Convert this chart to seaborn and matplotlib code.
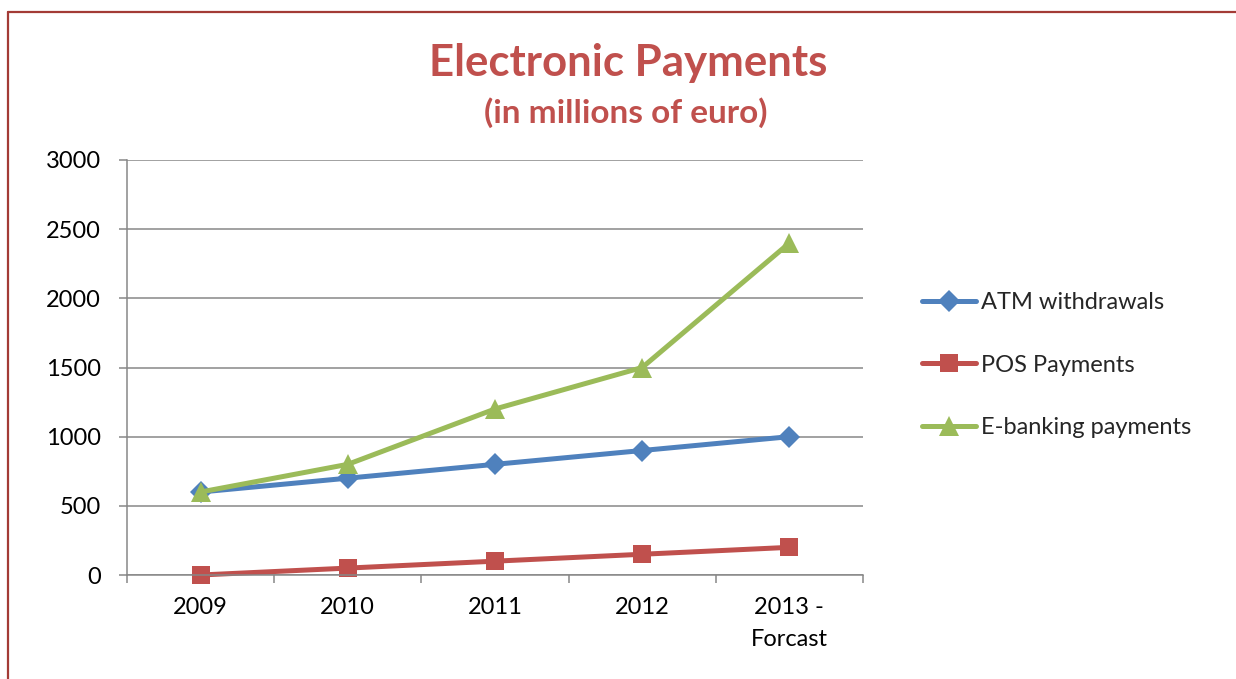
import matplotlib
matplotlib.use("Agg")
import matplotlib.pyplot as plt
from matplotlib.lines import Line2D
from matplotlib.ticker import MultipleLocator, FixedLocator
import pandas as pd
import seaborn as sns

# Chart data
years = ["2009", "2010", "2011", "2012", "2013 -\nForcast"]
atm_withdrawals = [600, 700, 800, 900, 1000]
pos_payments = [0, 50, 100, 150, 200]
ebanking_payments = [600, 800, 1200, 1500, 2400]

series_names = ["ATM withdrawals", "POS Payments", "E-banking payments"]
series_values = [atm_withdrawals, pos_payments, ebanking_payments]
series_colors = ["#4F81BD", "#C0504D", "#9BBB59"]
series_markers = ["D", "s", "^"]
series_msizes = [11, 13, 14]

sns.set_style("white")
plt.rcParams["font.family"] = ["Lato", "DejaVu Sans"]

W, H = 1236, 679
fig = plt.figure(figsize=(W / 100, H / 100), dpi=100)
ax = fig.add_axes([127 / W, 1 - 575 / H, 736 / W, 415 / H])

rows = []
for name, vals in zip(series_names, series_values):
    for i, v in enumerate(vals):
        rows.append({"pos": i, "value": v, "series": name})
df = pd.DataFrame(rows)

LW = 3.6
for name, color, mk, ms in zip(series_names, series_colors, series_markers, series_msizes):
    sns.lineplot(data=df[df["series"] == name], x="pos", y="value",
                 color=color, linewidth=LW, marker=mk, markersize=ms,
                 markeredgewidth=0, ax=ax, label=name, legend=False,
                 clip_on=False)

grid_color = "#878787"
ax.set_xlim(-0.5, 4.5)
ax.set_ylim(0, 3000)
ax.yaxis.set_major_locator(MultipleLocator(500))
ax.set_xticks(range(len(years)))
ax.set_xticklabels(years)
ax.xaxis.set_minor_locator(FixedLocator([i - 0.5 for i in range(len(years) + 1)]))
ax.grid(axis="y", color=grid_color, linewidth=1.1)
ax.set_axisbelow(True)
ax.set_xlabel("")
ax.set_ylabel("")

for side in ["top", "right"]:
    ax.spines[side].set_visible(False)
for side in ["left", "bottom"]:
    ax.spines[side].set_color(grid_color)
    ax.spines[side].set_linewidth(1.1)

TICK_FS = 17
ax.tick_params(axis="y", which="major", length=6, width=1.1, color=grid_color,
               labelsize=TICK_FS, labelcolor="black", pad=13, left=True)
ax.tick_params(axis="x", which="major", length=0, labelsize=TICK_FS,
               labelcolor="black", pad=16)
ax.tick_params(axis="x", which="minor", length=6, width=1.1, color=grid_color,
               bottom=True, direction="out")
for lbl in ax.get_xticklabels():
    lbl.set_linespacing(1.65)

handles = [Line2D([], [], color=c, linewidth=LW, marker=m, markersize=s,
                  markeredgewidth=0)
           for c, m, s in zip(series_colors, series_markers, series_msizes)]
fig.legend(handles, series_names, loc="center left",
           bbox_to_anchor=(922 / W, 1 - 365 / H), frameon=False,
           fontsize=17, handlelength=2.3, handletextpad=0.2,
           labelspacing=1.75, borderaxespad=0, borderpad=0)

title_color = "#C0504D"
fig.text(628 / W, 1 - 63 / H, "Electronic Payments", ha="center", va="center",
         fontsize=31.5, fontweight="bold", color=title_color)
fig.text(626 / W, 1 - 113 / H, "(in millions of euro)", ha="center", va="center",
         fontsize=24, fontweight="bold", color=title_color)

# Frame along the top and left edges of the chart area
border_color = "#A33B36"
fig.add_artist(Line2D([8 / W, 1.0], [1 - 12 / H, 1 - 12 / H], color=border_color,
                      linewidth=1.6, transform=fig.transFigure))
fig.add_artist(Line2D([8 / W, 8 / W], [0.0, 1 - 12 / H], color=border_color,
                      linewidth=1.6, transform=fig.transFigure))

fig.savefig("out.png", dpi=100, facecolor="white")
